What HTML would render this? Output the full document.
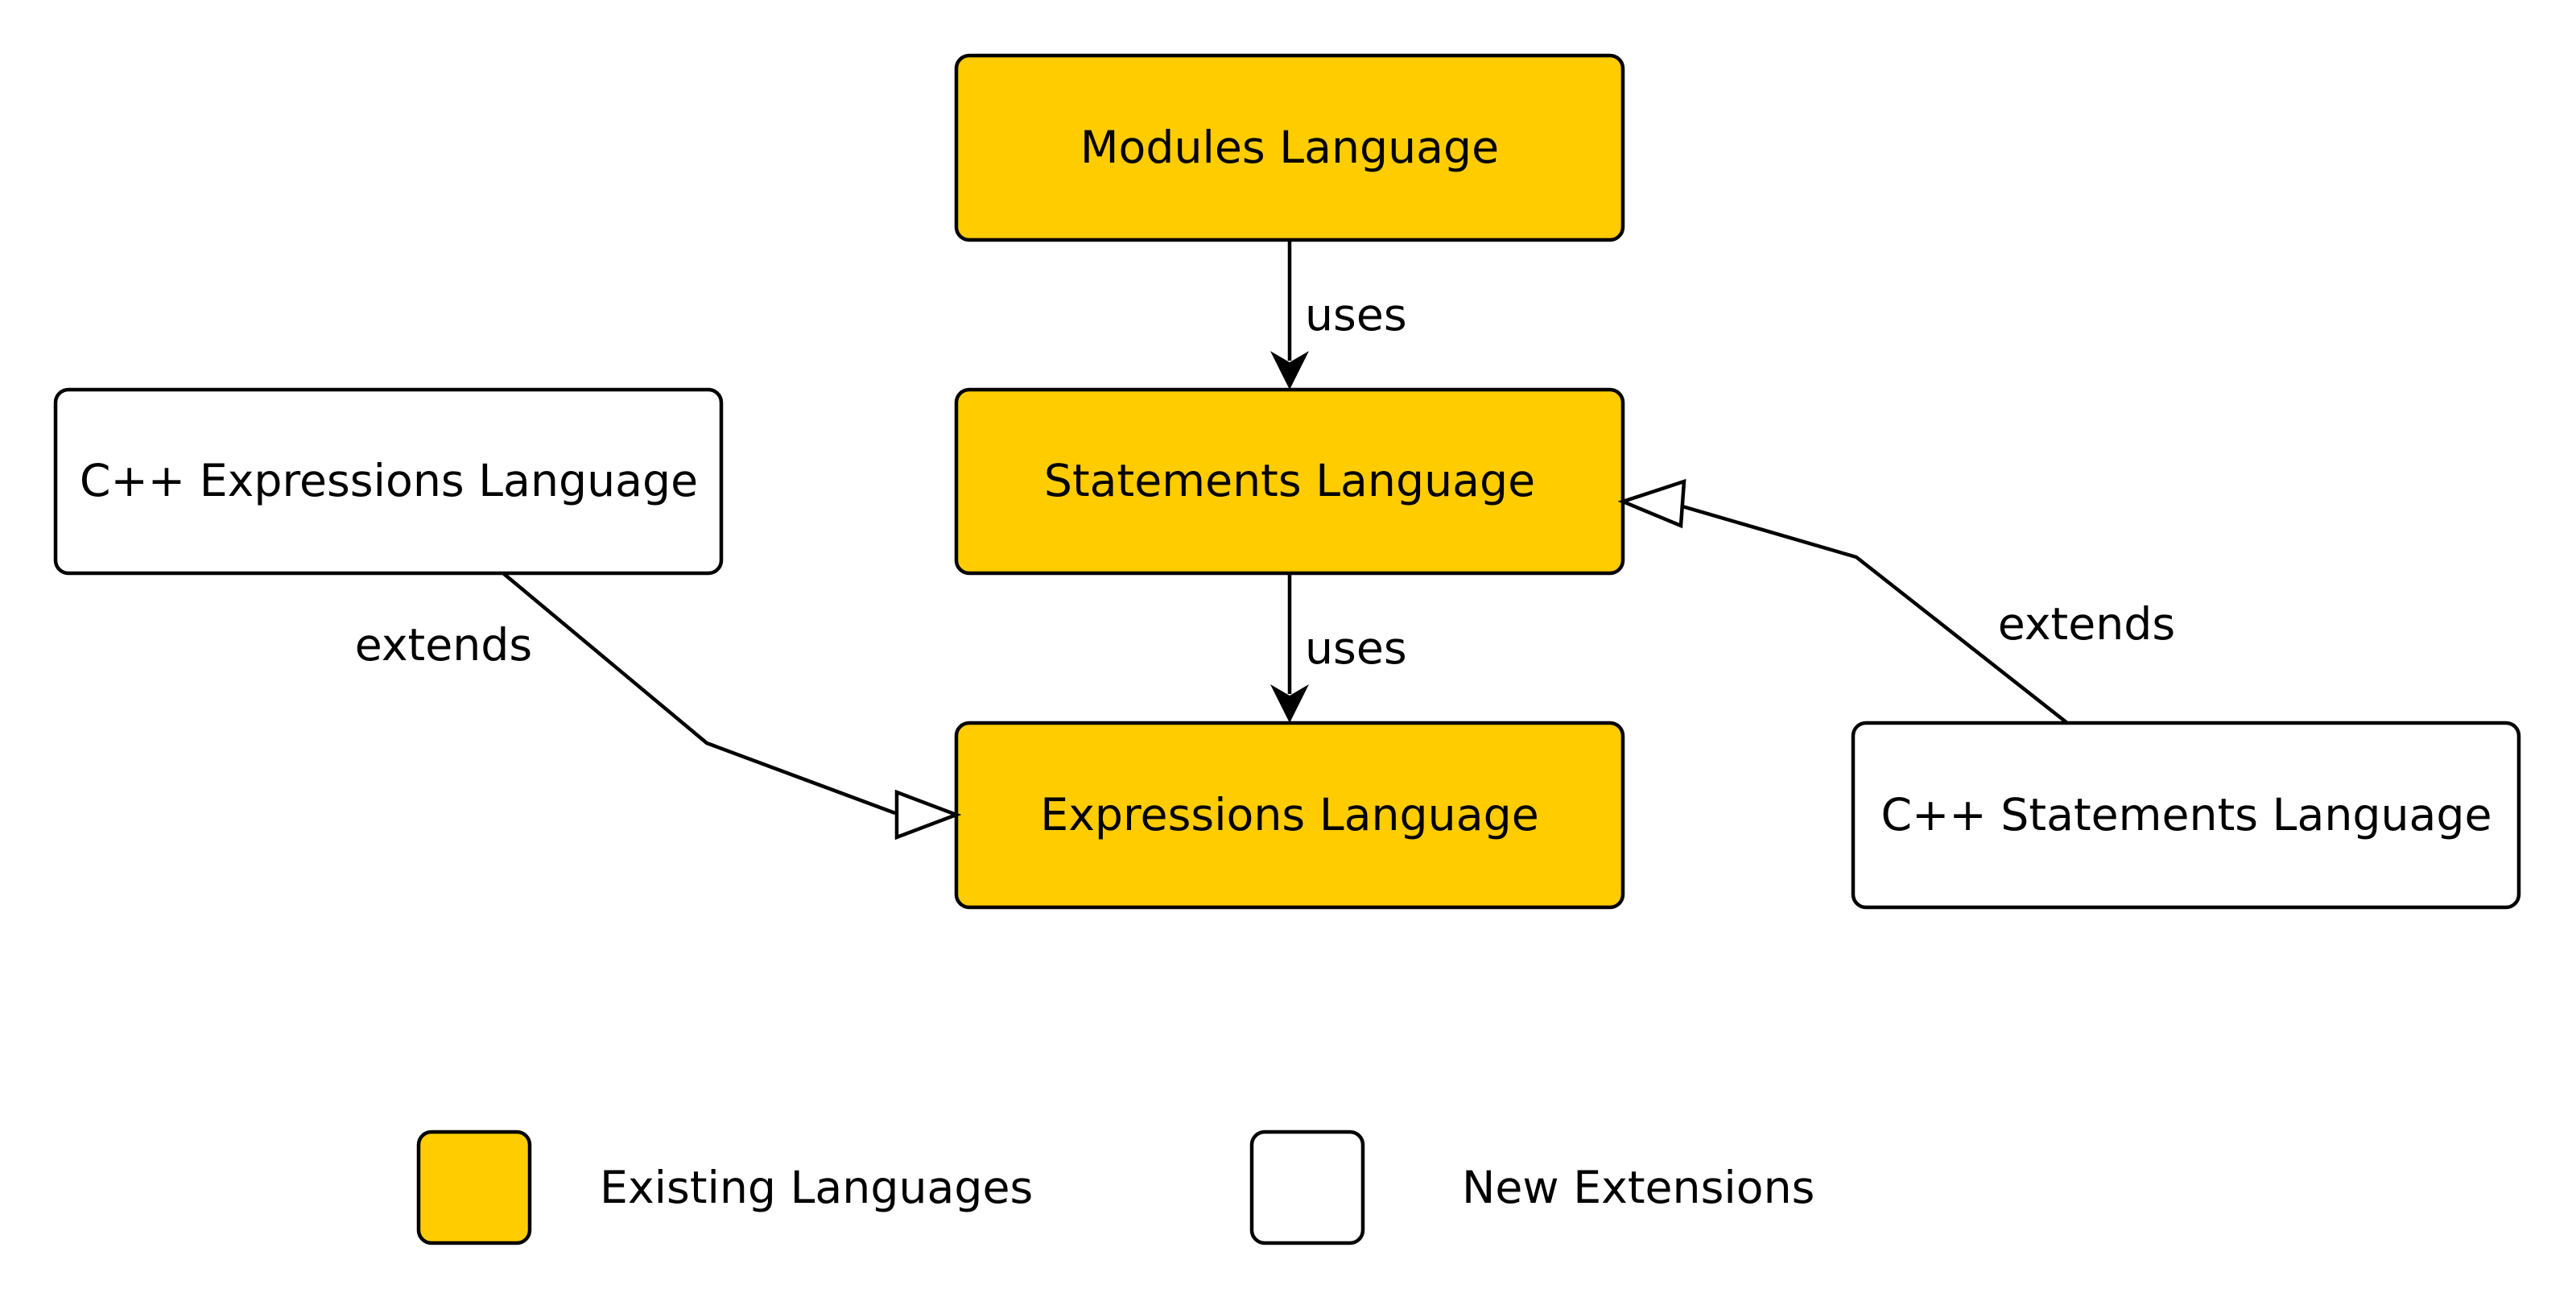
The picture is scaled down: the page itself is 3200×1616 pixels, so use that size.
<!DOCTYPE html>
<html><head><meta charset="utf-8"><style>
html,body{margin:0;padding:0;background:#fff;}
svg{display:block;}
text{font-family:"DejaVu Sans","Liberation Sans",sans-serif;font-size:55.3px;fill:#000;}
</style></head><body>
<svg width="3200" height="1616" viewBox="0 0 3200 1616" xmlns="http://www.w3.org/2000/svg">
<g stroke="#000" stroke-width="4.5">
<rect x="1188" y="69" width="828" height="229" rx="16" fill="#ffcc00"/>
<rect x="1188" y="484" width="828" height="228" rx="16" fill="#ffcc00"/>
<rect x="1188" y="898" width="828" height="229" rx="16" fill="#ffcc00"/>
<rect x="69" y="484" width="827" height="228" rx="16" fill="#fff"/>
<rect x="2302" y="898" width="827" height="229" rx="16" fill="#fff"/>
<rect x="520" y="1406" width="138" height="138" rx="16" fill="#ffcc00"/>
<rect x="1555" y="1406" width="138" height="138" rx="16" fill="#fff"/>
<line x1="1602" y1="298" x2="1602" y2="448" fill="none"/>
<line x1="1602" y1="712" x2="1602" y2="862" fill="none"/>
<polyline points="625,712 878,923 1112,1010" fill="none"/>
<polygon points="1188,1012 1114,984 1114,1040" fill="#fff"/>
<polyline points="2568,898 2306,692 2090,629" fill="none"/>
<polygon points="2016,623 2092,598 2088,653" fill="#fff"/>
</g>
<polygon points="1602,484 1578,436 1602,450 1626,436" fill="#000"/>
<polygon points="1602,898 1578,850 1602,864 1626,850" fill="#000"/>
<g text-anchor="middle" dominant-baseline="central">
<text x="1602" y="184">Modules Language</text>
<text x="1602" y="598">Statements Language</text>
<text x="1602" y="1013">Expressions Language</text>
<text x="483" y="598">C++ Expressions Language</text>
<text x="2716" y="1013">C++ Statements Language</text>
<text x="551" y="802">extends</text>
<text x="2592" y="776">extends</text>
</g>
<g dominant-baseline="central">
<text x="1621" y="392">uses</text>
<text x="1621" y="806">uses</text>
<text x="745" y="1476">Existing Languages</text>
<text x="1816" y="1476">New Extensions</text>
</g>
</svg>
</body></html>
